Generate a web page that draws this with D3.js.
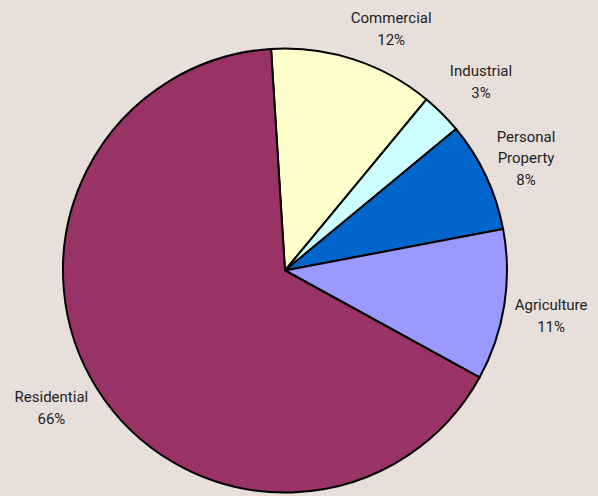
<!DOCTYPE html>
<html>
<head>
<meta charset="utf-8">
<script src="https://cdn.jsdelivr.net/npm/d3@7"></script>
<style>
  html, body { margin: 0; padding: 0; background: #e9dfda; }
  svg { display: block; }
  text { font-family: Roboto, "DejaVu Sans", sans-serif; font-size: 15px; fill: #1e1e1e; }
</style>
</head>
<body>
<svg id="chart" width="598" height="496"></svg>
<script>
// Property categories in drawing order (clockwise from the top)
const categories = ["Commercial", "Industrial", "Personal Property", "Agriculture", "Residential"];
const shares = [12, 3, 8, 11, 66];
const colors = ["#ffffcc", "#ccffff", "#0066cc", "#9999ff", "#993366"];

const width = 598, height = 496;
const cx = 285, cy = 270.5, radius = 222;
const startDeg = -3.6;

const svg = d3.select("#chart");
const g = svg.append("g").attr("transform", `translate(${cx},${cy})`);

const data = categories.map((c, i) => ({ name: c, value: shares[i], color: colors[i] }));

const pie = d3.pie()
  .value(d => d.value)
  .sort(null)
  .startAngle(startDeg * Math.PI / 180)
  .endAngle(startDeg * Math.PI / 180 + 2 * Math.PI);

const arc = d3.arc().innerRadius(0).outerRadius(radius);
const arcs = pie(data);

g.selectAll("path.slice")
  .data(arcs)
  .join("path")
  .attr("class", "slice")
  .attr("d", arc)
  .attr("fill", d => d.data.color)
  .attr("stroke", "#000")
  .attr("stroke-width", 2)
  .attr("stroke-linejoin", "round");

// Label text lines and placement: radius factor and angular nudge (degrees) from the slice mid-angle
const labelLines = {
  "Commercial": ["Commercial"],
  "Industrial": ["Industrial"],
  "Personal Property": ["Personal", "Property"],
  "Agriculture": ["Agriculture"],
  "Residential": ["Residential"]
};
const labelPlace = {
  "Commercial": { r: 1.19, nudge: 5.7 },
  "Industrial": { r: 1.225, nudge: 1.1 },
  "Personal Property": { r: 1.198, nudge: 0.2 },
  "Agriculture": { r: 1.216, nudge: 0.7 },
  "Residential": { r: 1.22, nudge: 2.0 }
};
const lineH = 21.5;

const labels = svg.append("g").attr("class", "labels");
arcs.forEach(a => {
  const p = labelPlace[a.data.name];
  const mid = (a.startAngle + a.endAngle) / 2 + p.nudge * Math.PI / 180;
  const r = radius * p.r;
  const x = cx + Math.sin(mid) * r;
  const y = cy - Math.cos(mid) * r;
  const lines = labelLines[a.data.name].concat([a.data.value + "%"]);
  const top = y - (lines.length - 1) * lineH / 2;
  const t = labels.append("text").attr("text-anchor", "middle");
  lines.forEach((ln, i) => {
    t.append("tspan").attr("x", x).attr("y", top + i * lineH).attr("dy", "0.35em").text(ln);
  });
});
</script>
</body>
</html>
